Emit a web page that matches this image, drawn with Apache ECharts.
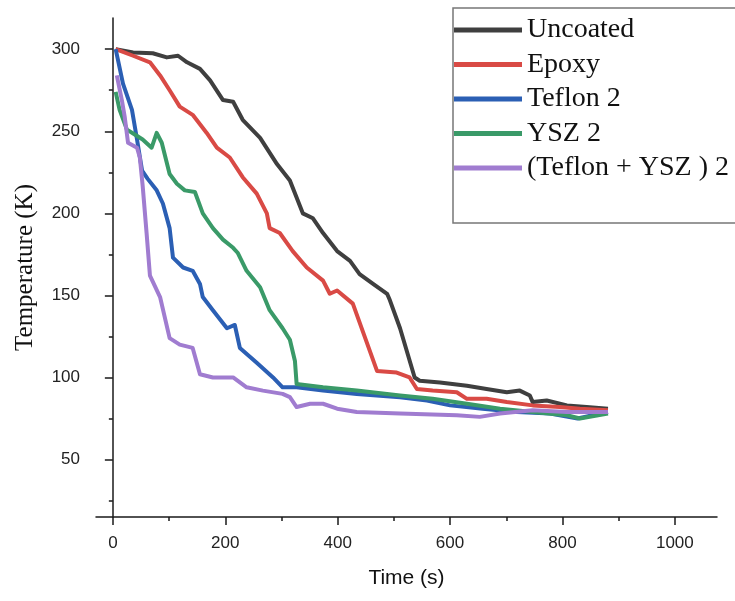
<!DOCTYPE html>
<html>
<head>
<meta charset="utf-8">
<script src="https://cdn.jsdelivr.net/npm/echarts@6/dist/echarts.min.js"></script>
<style>
  html, body { margin: 0; padding: 0; background: #fff; }
  #chart { width: 735px; height: 601px; }
</style>
</head>
<body>
<div id="chart"></div>
<script>
  // values: [time (s), temperature (K)]
  const seriesNames = ['Uncoated', 'Epoxy', 'Teflon 2', 'YSZ 2', '(Teflon + YSZ ) 2']
  const seriesColors = ['#3f3f3f', '#d94a45', '#2b5fb4', '#3a9a68', '#a07cd0']

  const uncoated = [[5, 300], [36, 298], [71, 297.5], [96, 295], [116, 296], [132, 292], [155, 288],
    [173, 281], [196, 269], [214, 268], [231, 257], [262, 246], [292, 230], [315, 220], [338, 200],
    [356, 197], [374, 188], [399, 177], [422, 171], [439, 163], [463, 157], [488, 151], [493, 147],
    [511, 130], [537, 100], [546, 98], [582, 97], [630, 95], [665, 93], [701, 91], [724, 92],
    [742, 89], [747, 85], [772, 86], [808, 83], [843, 82], [881, 81]]

  const epoxy = [[5, 300], [36, 296], [66, 292], [84, 284], [101, 275], [119, 265], [142, 260],
    [167, 249], [185, 240], [208, 234], [231, 222], [256, 212], [274, 200], [279, 191], [297, 188],
    [320, 177], [345, 167], [374, 159], [386, 151], [399, 153], [427, 145], [470, 104], [505, 103],
    [528, 100], [541, 93], [569, 92], [612, 91], [630, 87], [665, 87], [701, 85], [747, 83],
    [795, 82], [831, 81], [881, 80]]

  const teflon = [[5, 300], [18, 279], [34, 263], [43, 245], [52, 226], [62, 221], [78, 214],
    [89, 206], [101, 191], [107, 173], [125, 167], [142, 165], [155, 157], [160, 149], [178, 141],
    [203, 130], [217, 132], [226, 118], [256, 109], [285, 100], [302, 94], [327, 94], [374, 92],
    [434, 90], [511, 88], [559, 86], [600, 83], [658, 81], [719, 79], [778, 78], [827, 75], [881, 79]]

  const ysz = [[5, 274], [12, 263], [25, 251], [39, 248], [53, 245], [69, 240], [78, 249], [87, 243],
    [101, 224], [114, 218], [128, 214], [146, 213], [160, 200], [178, 191], [196, 184], [214, 179],
    [222, 176], [238, 165], [262, 155], [279, 141], [302, 130], [315, 123], [324, 110], [327, 96],
    [374, 94], [434, 92], [511, 89], [569, 87], [630, 84], [689, 81], [747, 79], [808, 77],
    [831, 75], [881, 78]]

  const teflonYsz = [[7, 284], [16, 269], [21, 259], [27, 243], [43, 240], [48, 234], [53, 217],
    [60, 188], [66, 162], [84, 149], [101, 124], [119, 120], [142, 118], [155, 102], [178, 100],
    [214, 100], [238, 94], [267, 92], [302, 90], [315, 88], [327, 82], [351, 84], [374, 84],
    [399, 81], [434, 79], [511, 78], [612, 77], [653, 76], [689, 78], [747, 80], [808, 79], [881, 79]]

  const xLabelValues = [0, 200, 400, 600, 800, 1000]
  const xMinorValues = [100, 300, 500, 700, 900]
  const yLabelValues = [50, 100, 150, 200, 250, 300]
  const yMinorValues = [25, 75, 125, 175, 225, 275]

  const chart = echarts.init(document.getElementById('chart'))

  const axisColor = '#1a1a1a'
  const xRange = { min: -30, max: 1075 }
  const yRange = { min: 15, max: 319 }

  const option = {
    animation: false,
    grid: { left: 96, right: 18, top: 18, bottom: 84 },
    legend: {
      orient: 'vertical',
      left: 453,
      top: 8,
      padding: [8, 40, 41, 1],
      icon: 'rect',
      itemWidth: 68,
      itemHeight: 5,
      itemGap: 6.5,
      borderColor: '#777',
      borderWidth: 1.5,
      backgroundColor: '#fff',
      textStyle: { fontFamily: 'Liberation Serif', fontSize: 28, color: '#111' },
      data: seriesNames
    },
    xAxis: [{
      type: 'value',
      min: xRange.min,
      max: xRange.max,
      position: 'bottom',
      name: 'Time (s)',
      nameLocation: 'middle',
      nameGap: 51,
      nameTextStyle: { fontFamily: 'Liberation Sans', fontSize: 21, color: '#111' },
      axisLine: { show: true, lineStyle: { color: axisColor, width: 1.5 } },
      axisTick: { show: true, length: 8, customValues: xLabelValues, lineStyle: { color: axisColor, width: 1.5 } },
      axisLabel: {
        customValues: xLabelValues, margin: 18, fontFamily: 'Liberation Sans', fontSize: 17, color: '#222',
        formatter: function (v) { return String(v) }
      },
      splitLine: { show: false }
    }, {
      type: 'value',
      min: xRange.min,
      max: xRange.max,
      position: 'bottom',
      axisLine: { show: false },
      axisTick: { show: true, length: 4, customValues: xMinorValues, lineStyle: { color: axisColor, width: 1.5 } },
      axisLabel: { show: false },
      splitLine: { show: false }
    }],
    yAxis: [{
      type: 'value',
      min: yRange.min,
      max: yRange.max,
      position: 'left',
      name: 'Temperature (K)',
      nameLocation: 'middle',
      nameGap: 58,
      nameTextStyle: { fontFamily: 'Liberation Serif', fontSize: 25, color: '#111' },
      axisLine: { show: true, lineStyle: { color: axisColor, width: 1.5 } },
      axisTick: { show: true, length: 8, customValues: yLabelValues, lineStyle: { color: axisColor, width: 1.5 } },
      axisLabel: { customValues: yLabelValues, margin: 16, fontFamily: 'Liberation Sans', fontSize: 17, color: '#222' },
      splitLine: { show: false }
    }, {
      type: 'value',
      min: yRange.min,
      max: yRange.max,
      position: 'left',
      axisLine: { show: false },
      axisTick: { show: true, length: 4, customValues: yMinorValues, lineStyle: { color: axisColor, width: 1.5 } },
      axisLabel: { show: false },
      splitLine: { show: false }
    }],
    series: [uncoated, epoxy, teflon, ysz, teflonYsz].map(function (data, i) {
      return {
        name: seriesNames[i],
        type: 'line',
        data: data,
        showSymbol: false,
        symbol: 'none',
        color: seriesColors[i],
        lineStyle: { width: 4, color: seriesColors[i], join: 'round' },
        xAxisIndex: 0,
        yAxisIndex: 0
      }
    })
  }
  chart.setOption(option)
</script>
</body>
</html>
